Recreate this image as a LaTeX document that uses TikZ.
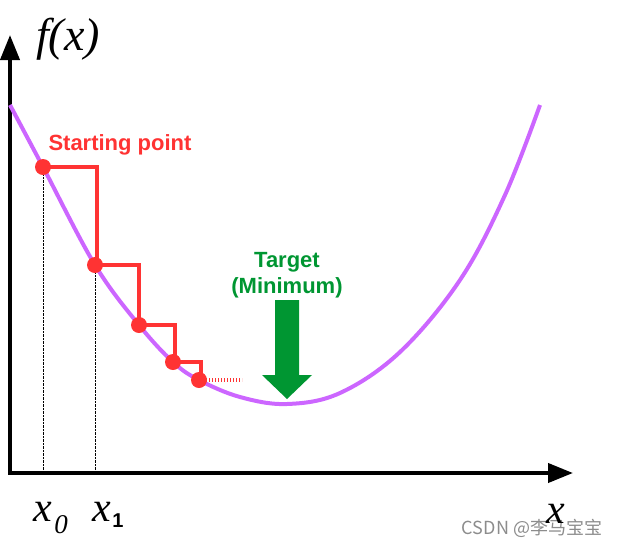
\documentclass[tikz,border=0pt]{standalone}
\usepackage{fontspec}
\setmainfont{Liberation Sans}
\newfontfamily\serifit{Liberation Serif}[ItalicFont={Liberation Serif Italic}]
\newfontfamily\cjk{Noto Sans CJK SC}
\usetikzlibrary{arrows.meta}
\definecolor{curvecol}{RGB}{204,102,255}
\definecolor{stepred}{RGB}{255,51,51}
\definecolor{goalgreen}{RGB}{0,150,50}
\tikzset{
  axisline/.style={line width=4pt, -{Triangle[length=25pt,width=19pt]}},
  stepline/.style={stepred, line width=4pt, line join=miter},
  dotmark/.style={circle, fill=stepred, inner sep=0pt, minimum size=16pt},
  biglabel/.style={font=\bfseries\fontsize{22}{26}\selectfont, align=center},
  varlabel/.style={font=\serifit\itshape\fontsize{42}{46}\selectfont, inner sep=0pt}
}
\begin{document}
\begin{tikzpicture}[x=1pt, y=-1pt]
  \useasboundingbox (0,0) rectangle (624,547);
  % axes
  \draw[axisline] (10,473) -- (10,35);
  \draw[axisline] (8,473) -- (573,473);
  % curve
  \draw[curvecol, line width=4pt] plot[smooth, tension=0.6] coordinates {
    (10,105) (43,167) (95,265) (139,325) (173,362) (199,380) (240,397)
    (287,404) (340,393) (400,352) (460,280) (505,195) (540,105)};
  % guide lines
  \draw[densely dotted, thin] (43,167) -- (43,473);
  \draw[densely dotted, thin] (95,265) -- (95,473);
  % descent steps
  \draw[stepline] (43,167) -- (97,167) -- (97,265);
  \draw[stepline] (95,265) -- (139,265) -- (139,325);
  \draw[stepline] (139,325) -- (175,325) -- (175,362);
  \draw[stepline] (173,362) -- (201,362) -- (201,380);
  \draw[stepred, line width=4pt, dash pattern=on 1.2pt off 1.8pt] (206,380) -- (242,380);
  \foreach \px/\py [count=\i] in {43/167, 95/265, 139/325, 173/362, 199/380}
    \node[dotmark] (p\i) at (\px,\py) {};
  % target arrow
  \fill[goalgreen] (275,300) -- (299,300) -- (299,375) -- (312,375) -- (287,399)
    -- (262,375) -- (275,375) -- cycle;
  % labels
  \node[biglabel, text=stepred] (start) at (120,145) {Starting point};
  \node[biglabel, text=goalgreen] (target) at (287,275) {Target\\[0pt](Minimum)};
  \node[varlabel, font=\serifit\itshape\fontsize{46}{50}\selectfont, anchor=base] (fx) at (68,50) {f(x)};
  \node[varlabel, anchor=base] (xa) at (43,521) {x};
  \node[font=\serifit\itshape\fontsize{27}{30}\selectfont, inner sep=0pt, anchor=base] (xa0) at (61,533) {0};
  \node[varlabel, anchor=base] (xb) at (102,521) {x};
  \node[font=\bfseries\fontsize{20}{22}\selectfont, inner sep=0pt, anchor=base] (xb1) at (118,527) {1};
  \node[font=\cjk\fontsize{18}{21}\selectfont, text=black!45, inner sep=0pt] (mark) at (532,528) {CSDN @李马宝宝};
  \node[varlabel, anchor=base] (xc) at (556,523) {x};
\end{tikzpicture}
\end{document}
